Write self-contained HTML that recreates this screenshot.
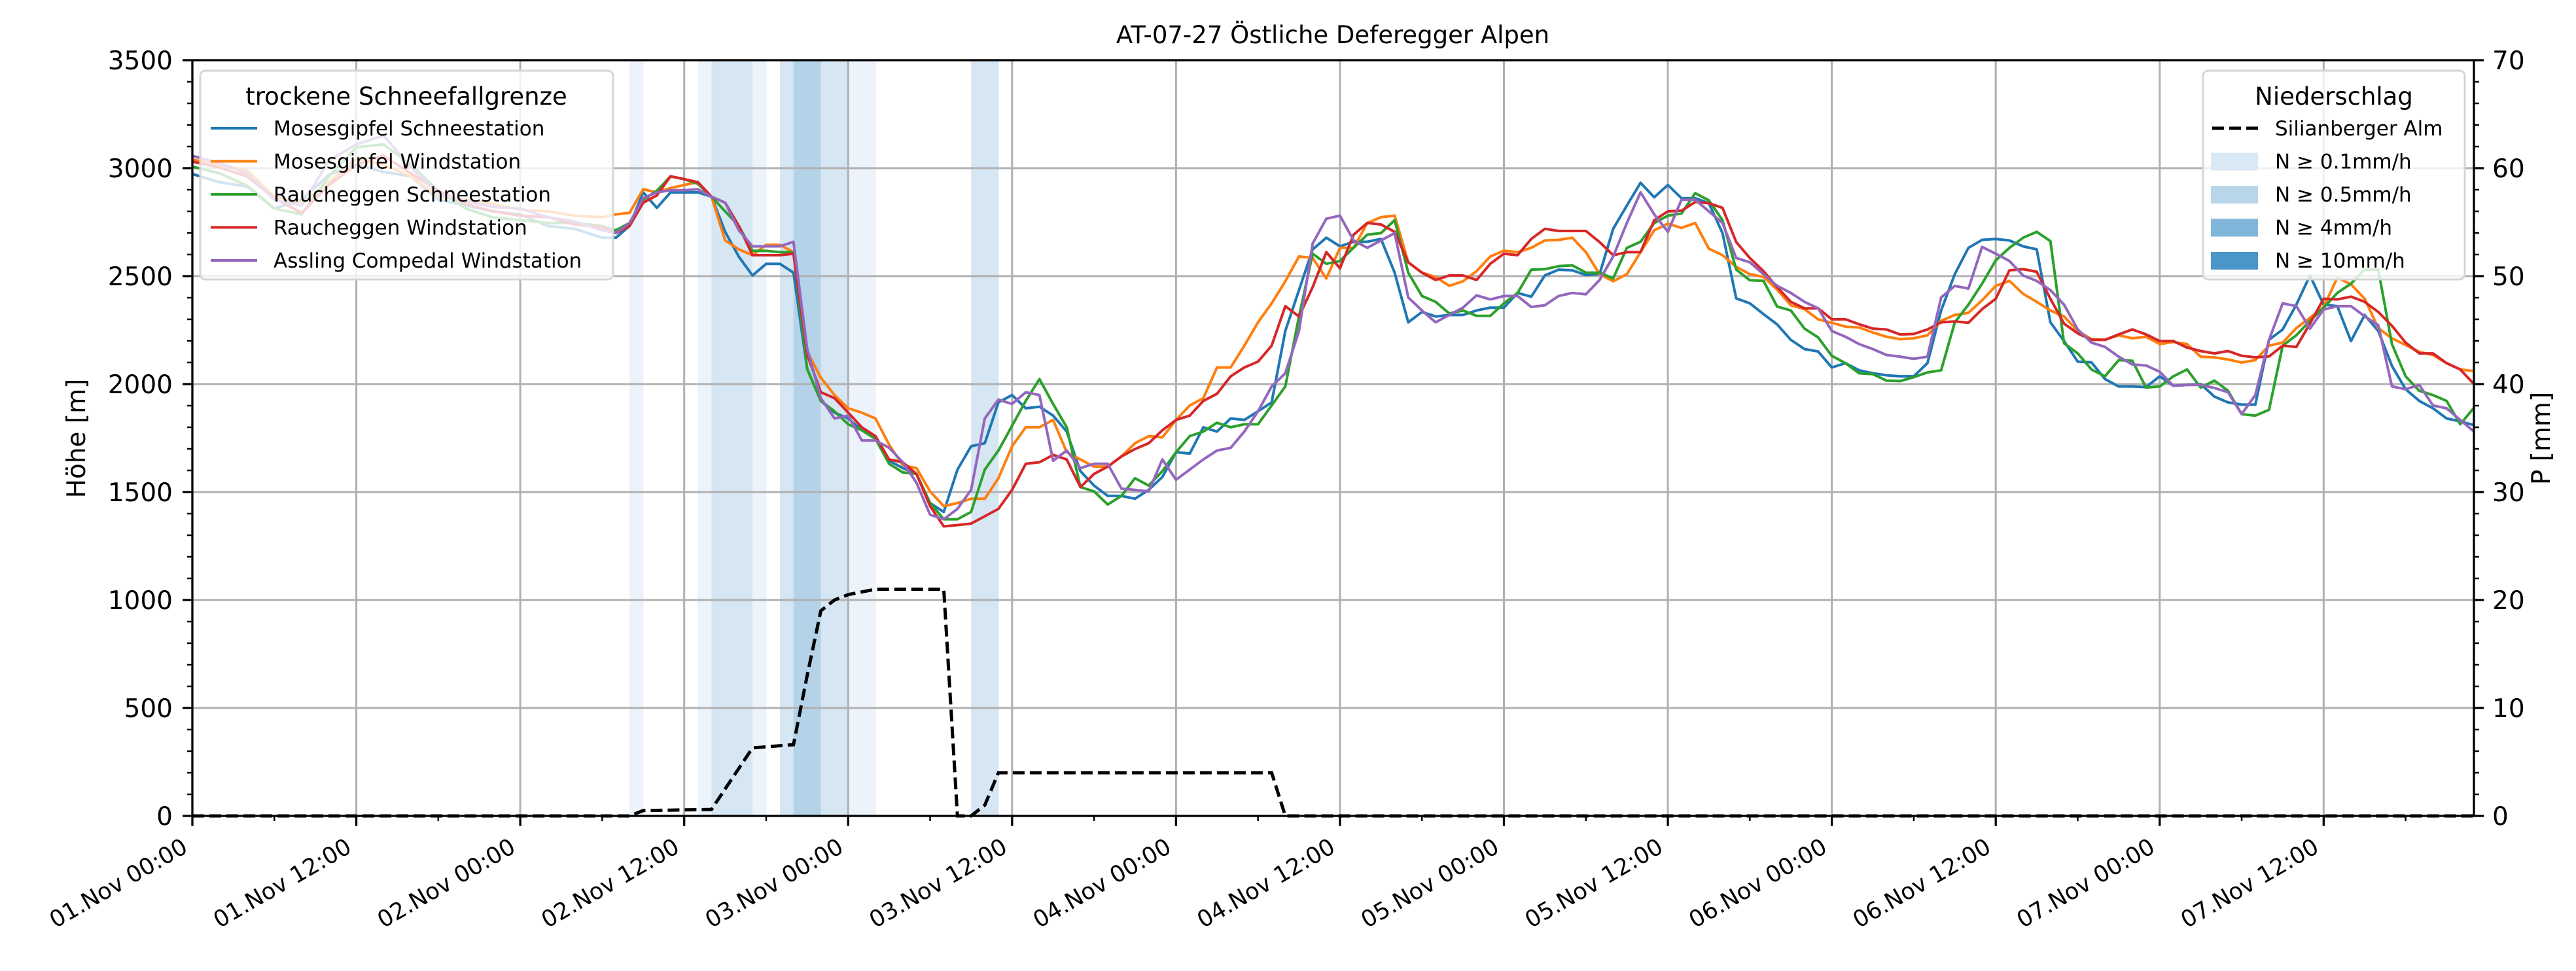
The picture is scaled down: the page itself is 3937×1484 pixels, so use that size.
<!DOCTYPE html>
<html><head><meta charset="utf-8"><title>AT-07-27 Östliche Deferegger Alpen</title>
<style>
html,body{margin:0;padding:0;background:#fff;}
svg{display:block;font-family:"DejaVu Sans","Liberation Sans",sans-serif;}
</style></head>
<body>
<svg id="chart" xmlns="http://www.w3.org/2000/svg" width="3937" height="1484" viewBox="0 0 3937 1484">
<rect x="0" y="0" width="3937" height="1484" fill="#fff"/>
<g id="bands"></g>
<g id="grid"></g>
<g id="series"></g>
<g id="legend1"></g>
<g id="precip"></g>
<g id="axes"></g>
<g id="legend2"></g>
<text x="2037" y="66" font-size="37" text-anchor="middle">AT-07-27 Östliche Deferegger Alpen</text>
<text x="0" y="0" font-size="39" text-anchor="middle" transform="translate(130,670) rotate(-90)">Höhe [m]</text>
<text x="0" y="0" font-size="39" text-anchor="middle" transform="translate(3897,670) rotate(-90)">P [mm]</text>
</svg>
<script>
// ---- data ----
const hours = [0,2,4,6,8,10,12,14,16,18,20,22,24,26,28,30,31,32,33,34,35,36,37,38,39,40,41,42,43,44,45,46,47,48,49,50,51,52,53,54,55,56,57,58,59,60,61,62,63,64,65,66,67,68,69,70,71,72,73,74,75,76,77,78,79,80,81,82,83,84,85,86,87,88,89,90,91,92,93,94,95,96,97,98,99,100,101,102,103,104,105,106,107,108,109,110,111,112,113,114,115,116,117,118,119,120,121,122,123,124,125,126,127,128,129,130,131,132,133,134,135,136,137,138,139,140,141,142,143,144,145,146,147,148,149,150,151,152,153,154,155,156,157,158,159,160,161,162,163,164,165,166,167];
const mosesSchnee = [2973,2935,2915,2813,2854,2969,3016,2982,2962,2854,2827,2800,2786,2732,2719,2678,2678,2732,2888,2816,2888,2888,2888,2868,2705,2590,2503,2557,2557,2516,2070,1922,1868,1841,1786,1753,1645,1611,1584,1449,1408,1604,1712,1726,1915,1949,1888,1895,1854,1780,1597,1530,1482,1482,1469,1510,1570,1685,1678,1800,1780,1841,1834,1874,1915,2246,2435,2624,2678,2638,2659,2659,2672,2516,2286,2334,2313,2320,2320,2341,2354,2354,2422,2405,2503,2530,2527,2505,2509,2719,2827,2932,2865,2922,2861,2861,2838,2699,2397,2374,2324,2276,2205,2162,2151,2077,2097,2064,2050,2041,2036,2036,2097,2341,2509,2631,2668,2672,2665,2638,2624,2286,2199,2104,2101,2023,1989,1989,1986,2036,1992,1996,2000,1942,1915,1905,1905,2205,2253,2368,2503,2368,2361,2199,2320,2246,2084,1976,1922,1888,1841,1827,1810];
const mosesWind = [3040,3016,2990,2868,2840,2935,3043,3016,2962,2868,2854,2834,2807,2800,2780,2773,2786,2793,2902,2888,2908,2922,2935,2868,2665,2624,2597,2645,2645,2611,2151,2030,1949,1888,1868,1841,1719,1624,1611,1503,1435,1449,1469,1469,1564,1712,1800,1800,1834,1685,1651,1618,1618,1665,1726,1759,1753,1834,1901,1935,2077,2077,2178,2286,2374,2476,2591,2584,2489,2631,2631,2746,2773,2780,2564,2516,2496,2455,2476,2523,2591,2618,2611,2631,2665,2668,2678,2611,2509,2476,2509,2611,2712,2743,2723,2746,2627,2597,2543,2509,2496,2438,2365,2347,2300,2284,2266,2262,2239,2219,2208,2212,2226,2293,2320,2330,2388,2455,2478,2418,2381,2341,2313,2246,2208,2205,2226,2212,2219,2185,2195,2185,2127,2124,2114,2100,2111,2178,2192,2259,2307,2357,2493,2462,2395,2259,2212,2181,2149,2135,2097,2068,2060];
const rauchSchnee = [3007,2976,2920,2813,2786,2962,3097,3110,3016,2895,2813,2772,2759,2746,2746,2732,2712,2746,2854,2895,2962,2949,2928,2868,2800,2732,2617,2617,2611,2611,2070,1922,1874,1814,1786,1746,1631,1591,1584,1449,1374,1374,1408,1604,1692,1807,1922,2023,1908,1800,1523,1503,1442,1482,1564,1530,1597,1685,1759,1780,1821,1800,1814,1814,1901,1989,2313,2604,2557,2570,2632,2692,2699,2759,2516,2408,2381,2327,2341,2316,2316,2374,2422,2530,2532,2546,2550,2516,2516,2489,2631,2659,2746,2780,2790,2884,2851,2759,2530,2481,2478,2359,2341,2257,2216,2131,2097,2050,2046,2016,2014,2032,2054,2064,2286,2368,2465,2573,2631,2678,2705,2662,2189,2142,2068,2036,2111,2108,1984,1989,2036,2068,1984,2016,1969,1861,1854,1881,2178,2226,2293,2354,2422,2465,2530,2530,2185,2036,1969,1949,1922,1814,1890];
const rauchWind = [3030,3003,2962,2860,2793,2922,3016,3057,2976,2895,2834,2800,2780,2773,2739,2726,2699,2732,2840,2874,2962,2949,2935,2868,2840,2732,2597,2597,2597,2604,2138,1962,1935,1868,1800,1759,1651,1638,1584,1435,1341,1347,1354,1388,1422,1510,1631,1638,1672,1651,1523,1584,1618,1665,1699,1726,1786,1834,1854,1922,1955,2036,2077,2104,2178,2361,2313,2449,2611,2536,2692,2746,2739,2705,2564,2516,2482,2503,2503,2482,2557,2604,2597,2672,2719,2709,2709,2709,2658,2597,2611,2611,2759,2800,2803,2843,2838,2816,2658,2584,2523,2449,2381,2351,2351,2300,2300,2277,2257,2253,2230,2232,2253,2286,2290,2284,2347,2395,2527,2532,2520,2395,2280,2235,2205,2205,2230,2253,2230,2199,2199,2169,2153,2142,2153,2131,2124,2128,2178,2172,2280,2395,2392,2405,2381,2334,2270,2192,2142,2142,2097,2068,2000];
const asslingWind = [3057,3023,2975,2854,2827,3036,3110,3151,3003,2881,2847,2820,2813,2773,2753,2712,2699,2746,2861,2888,2898,2898,2902,2868,2840,2712,2638,2638,2638,2659,2165,1935,1841,1854,1739,1739,1705,1638,1543,1395,1374,1422,1510,1841,1928,1908,1962,1949,1645,1692,1611,1631,1631,1516,1510,1503,1651,1557,1604,1651,1692,1705,1780,1874,1989,2050,2246,2651,2766,2780,2665,2631,2665,2699,2401,2341,2286,2320,2354,2411,2392,2408,2408,2357,2365,2408,2422,2416,2482,2591,2746,2888,2786,2705,2854,2854,2800,2746,2584,2564,2509,2455,2422,2381,2351,2246,2219,2185,2162,2135,2127,2117,2127,2401,2455,2442,2635,2604,2570,2503,2478,2435,2368,2253,2192,2172,2127,2091,2086,2057,1992,1996,1996,1982,1962,1861,1949,2205,2374,2361,2257,2345,2361,2361,2314,2273,1989,1976,1996,1901,1888,1834,1780];
const precipHours = [0,32,33,38,41,44,45,46,47,48,50,55,56,57,58,59,79,80,167];
const precipValues = [0,0,0.5,0.6,6.3,6.6,13,19,20,20.5,21,21,0,0,1,4,4,0,0];
const bandStartHours = [32,37,38,39,40,41,43,44,45,46,47,48,49,57,58];
const bandLevels = [1,1,2,2,2,1,2,3,3,2,2,1,1,2,2];
const seriesNames = ["Mosesgipfel Schneestation","Mosesgipfel Windstation","Raucheggen Schneestation","Raucheggen Windstation","Assling Compedal Windstation"];
const xTickLabels = ["01.Nov 00:00","01.Nov 12:00","02.Nov 00:00","02.Nov 12:00","03.Nov 00:00","03.Nov 12:00","04.Nov 00:00","04.Nov 12:00","05.Nov 00:00","05.Nov 12:00","06.Nov 00:00","06.Nov 12:00","07.Nov 00:00","07.Nov 12:00"];
const yTicks = [0,500,1000,1500,2000,2500,3000,3500];
const y2Ticks = [0,10,20,30,40,50,60,70];
const precipLegendLabels = ["N ≥ 0.1mm/h","N ≥ 0.5mm/h","N ≥ 4mm/h","N ≥ 10mm/h"];

// ---- layout ----
const NS = "http://www.w3.org/2000/svg";
const L = 294, R = 3781, T = 92, B = 1247;
const xMax = 167, yMax = 3500, y2Max = 70;
const X = h => L + (h / xMax) * (R - L);
const Y = v => B - (v / yMax) * (B - T);
const Y2 = v => B - (v / y2Max) * (B - T);
const colors = ["#1f77b4","#ff7f0e","#2ca02c","#d62728","#9467bd"];
const bandColors = ["", "#edf3fa", "#d6e6f3", "#b4d3e8", "#8cbcdd"];
function mk(tag, attrs, parent) {
  const e = document.createElementNS(NS, tag);
  for (const k in attrs) e.setAttribute(k, attrs[k]);
  parent.appendChild(e);
  return e;
}
const gB = document.getElementById("bands"), gG = document.getElementById("grid"),
      gS = document.getElementById("series"), gP = document.getElementById("precip"),
      gA = document.getElementById("axes"), gL1 = document.getElementById("legend1"),
      gL2 = document.getElementById("legend2");

bandStartHours.forEach((h, i) => {
  const r = mk("rect", {x: X(h), y: T, width: X(h + 1) - X(h) + 0.5, height: B - T, fill: bandColors[bandLevels[i]]}, gB);
  
  
});

for (let i = 0; i < xTickLabels.length; i++) {
  const l = mk("line", {x1: X(i * 12), x2: X(i * 12), y1: T, y2: B, stroke: "#b0b0b0", "stroke-width": 3}, gG);
  
  
}
yTicks.forEach(v => {
  const l = mk("line", {x1: L, x2: R, y1: Y(v), y2: Y(v), stroke: "#b0b0b0", "stroke-width": 3}, gG);
  
  
});

const allSeries = [mosesSchnee, mosesWind, rauchSchnee, rauchWind, asslingWind];
allSeries.forEach((s, k) => {
  const pts = s.map((v, i) => X(hours[i]).toFixed(1) + "," + Y(v).toFixed(1)).join(" ");
  const p = mk("polyline", {points: pts, fill: "none", stroke: colors[k], "stroke-width": 4, "stroke-linejoin": "round"}, gS);
  
  
});

const lb1 = mk("rect", {x: 306, y: 108, width: 631, height: 319, rx: 8, fill: "rgba(255,255,255,0.8)", stroke: "#d6d6d6", "stroke-width": 3}, gL1);


const lt1 = mk("text", {x: 621, y: 160, "font-size": 37, "text-anchor": "middle"}, gL1);
lt1.textContent = "trockene Schneefallgrenze";


seriesNames.forEach((n, k) => {
  const y = 196 + k * 50.5;
  const ln = mk("line", {x1: 322, x2: 393, y1: y, y2: y, stroke: colors[k], "stroke-width": 4}, gL1);
  
  
  const t = mk("text", {x: 418, y: y + 11, "font-size": 31}, gL1);
  t.textContent = n;
  
  
});

const ppts = precipValues.map((v, i) => X(precipHours[i]).toFixed(1) + "," + Y2(v).toFixed(1)).join(" ");
const pl = mk("polyline", {points: ppts, fill: "none", stroke: "#000", "stroke-width": 5, "stroke-dasharray": "18,8"}, gP);



const fr = mk("rect", {x: L, y: T, width: R - L, height: B - T, fill: "none", stroke: "#000", "stroke-width": 3.3}, gA);


yTicks.forEach(v => {
  const tk = mk("line", {x1: L - 15, x2: L, y1: Y(v), y2: Y(v), stroke: "#000", "stroke-width": 3.3}, gA);
  
  
  const t = mk("text", {x: L - 30, y: Y(v) + 14, "font-size": 39, "text-anchor": "end"}, gA);
  t.textContent = v;
  
  
});
for (let v = 0; v <= yMax; v += 100) {
  if (v % 500 === 0) continue;
  const tk = mk("line", {x1: L - 8, x2: L, y1: Y(v), y2: Y(v), stroke: "#000", "stroke-width": 2.5}, gA);
  
  
}
y2Ticks.forEach(v => {
  const tk = mk("line", {x1: R, x2: R + 15, y1: Y2(v), y2: Y2(v), stroke: "#000", "stroke-width": 3.3}, gA);
  
  
  const t = mk("text", {x: R + 28, y: Y2(v) + 14, "font-size": 39}, gA);
  t.textContent = v;
  
  
});
for (let v = 0; v <= y2Max; v += 2) {
  if (v % 10 === 0) continue;
  const tk = mk("line", {x1: R, x2: R + 8, y1: Y2(v), y2: Y2(v), stroke: "#000", "stroke-width": 2.5}, gA);
  
  
}
xTickLabels.forEach((lab, i) => {
  const x = X(i * 12);
  const tk = mk("line", {x1: x, x2: x, y1: B, y2: B + 15, stroke: "#000", "stroke-width": 3.3}, gA);
  
  
  const t = mk("text", {x: 0, y: 0, "font-size": 35, "text-anchor": "end", transform: "translate(" + (x - 5) + "," + (B + 54) + ") rotate(-30)"}, gA);
  t.textContent = lab;
  
  
});
for (let h = 6; h < xMax; h += 12) {
  const tk = mk("line", {x1: X(h), x2: X(h), y1: B, y2: B + 8, stroke: "#000", "stroke-width": 2.5}, gA);
  
  
}

const lb2 = mk("rect", {x: 3367, y: 108, width: 400, height: 319, rx: 8, fill: "rgba(255,255,255,0.8)", stroke: "#d6d6d6", "stroke-width": 3}, gL2);


const lt2 = mk("text", {x: 3567, y: 160, "font-size": 37, "text-anchor": "middle"}, gL2);
lt2.textContent = "Niederschlag";


const dl = mk("line", {x1: 3381, x2: 3451, y1: 196, y2: 196, stroke: "#000", "stroke-width": 5, "stroke-dasharray": "18,8"}, gL2);


const dt = mk("text", {x: 3477, y: 207, "font-size": 31}, gL2);
dt.textContent = "Silianberger Alm";


const patchColors = ["#d9e8f5", "#b9d5ea", "#80b6da", "#4b96c9"];
precipLegendLabels.forEach((lab, k) => {
  const y = 196 + (k + 1) * 50.5;
  const r = mk("rect", {x: 3379, y: y - 13, width: 72, height: 27, fill: patchColors[k]}, gL2);
  
  
  const t = mk("text", {x: 3477, y: y + 11, "font-size": 31}, gL2);
  t.textContent = lab;
  
  
});
</script>
</body></html>
